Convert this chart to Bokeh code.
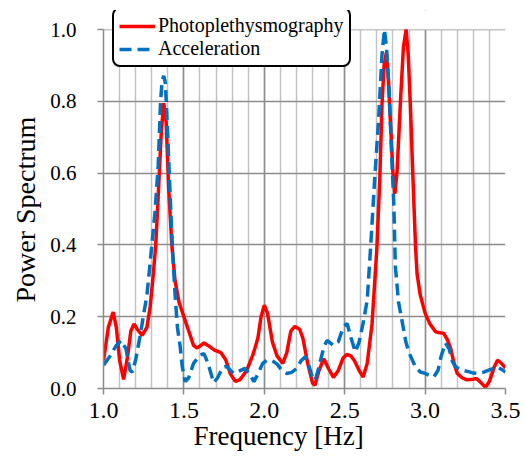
from bokeh.plotting import figure
from bokeh.models import (Range1d, SingleIntervalTicker, NumeralTickFormatter,
                          Legend, LegendItem, BoxAnnotation, Title)
from bokeh.embed import file_html
from bokeh.resources import INLINE

# Photoplethysmography power spectrum
ppg_freq = [1.00, 1.03, 1.06, 1.08, 1.10, 1.125, 1.15, 1.17, 1.19, 1.21, 1.24,
            1.27, 1.29, 1.31, 1.325, 1.345, 1.36, 1.375, 1.39, 1.405, 1.425,
            1.445, 1.47, 1.50, 1.53, 1.56, 1.58, 1.60, 1.625, 1.65, 1.69, 1.73,
            1.76, 1.79, 1.82, 1.85, 1.89, 1.93, 1.96, 1.98, 2.00, 2.02, 2.05,
            2.08, 2.115, 2.14, 2.165, 2.19, 2.22, 2.24, 2.27, 2.30, 2.315, 2.34,
            2.37, 2.40, 2.43, 2.46, 2.49, 2.515, 2.54, 2.56, 2.59, 2.615, 2.64,
            2.67, 2.70, 2.718, 2.732, 2.745, 2.759, 2.772, 2.784, 2.80, 2.812,
            2.826, 2.846, 2.865, 2.882, 2.895, 2.908, 2.925, 2.94, 2.95, 2.97,
            3.00, 3.03, 3.065, 3.09, 3.115, 3.14, 3.16, 3.18, 3.20, 3.23, 3.26,
            3.30, 3.32, 3.35, 3.375, 3.40, 3.43, 3.45, 3.47, 3.50]
ppg_power = [0.078, 0.17, 0.213, 0.17, 0.08, 0.025, 0.09, 0.16, 0.18, 0.165, 0.148,
             0.17, 0.227, 0.32, 0.40, 0.58, 0.72, 0.795, 0.74, 0.56, 0.40,
             0.30, 0.24, 0.20, 0.16, 0.12, 0.113, 0.118, 0.127, 0.12, 0.107, 0.10,
             0.08, 0.04, 0.02, 0.025, 0.05, 0.095, 0.14, 0.20, 0.232, 0.21, 0.13,
             0.09, 0.07, 0.10, 0.16, 0.173, 0.165, 0.14, 0.07, 0.015, 0.009, 0.05,
             0.083, 0.055, 0.031, 0.05, 0.085, 0.095, 0.09, 0.078, 0.05, 0.032, 0.07,
             0.18, 0.39, 0.58, 0.793, 0.90, 0.936, 0.86, 0.746, 0.60, 0.542,
             0.607, 0.793, 0.95, 1.0, 0.93, 0.793, 0.58, 0.40, 0.32, 0.26,
             0.21, 0.18, 0.158, 0.155, 0.154, 0.135, 0.11, 0.07, 0.042, 0.03, 0.024,
             0.026, 0.028, 0.015, 0.003, 0.02, 0.06, 0.079, 0.072, 0.058]

# Acceleration power spectrum
acc_freq = [1.00, 1.04, 1.08, 1.11, 1.14, 1.165, 1.18, 1.20, 1.225, 1.24, 1.27,
            1.29, 1.32, 1.34, 1.355, 1.365, 1.375, 1.385, 1.40, 1.415, 1.43,
            1.446, 1.46, 1.477, 1.49, 1.508, 1.53, 1.56, 1.60, 1.625, 1.65,
            1.685, 1.71, 1.74, 1.765, 1.79, 1.81, 1.85, 1.88, 1.91, 1.935, 1.96,
            1.99, 2.017, 2.05, 2.08, 2.11, 2.14, 2.17, 2.20, 2.23, 2.255, 2.28,
            2.30, 2.317, 2.34, 2.37, 2.39, 2.43, 2.46, 2.49, 2.515, 2.54, 2.566,
            2.59, 2.618, 2.64, 2.66, 2.686, 2.711, 2.732, 2.747, 2.76, 2.775,
            2.795, 2.805, 2.815, 2.835, 2.86, 2.88, 2.90, 2.94, 2.97, 3.00, 3.03,
            3.054, 3.08, 3.10, 3.126, 3.15, 3.17, 3.19, 3.23, 3.27, 3.30, 3.324,
            3.36, 3.40, 3.448, 3.48, 3.50]
acc_power = [0.065, 0.09, 0.12, 0.134, 0.11, 0.05, 0.046, 0.08, 0.14, 0.18, 0.26,
             0.35, 0.49, 0.62, 0.80, 0.86, 0.871, 0.85, 0.70, 0.533, 0.38,
             0.255, 0.17, 0.116, 0.06, 0.019, 0.03, 0.07, 0.093, 0.097, 0.07,
             0.016, 0.03, 0.058, 0.062, 0.05, 0.042, 0.05, 0.056, 0.04, 0.019, 0.04,
             0.07, 0.079, 0.077, 0.068, 0.05, 0.042, 0.045, 0.055, 0.078, 0.088, 0.06,
             0.03, 0.023, 0.06, 0.115, 0.134, 0.12, 0.13, 0.17, 0.181, 0.14, 0.102,
             0.13, 0.19, 0.246, 0.385, 0.58, 0.75, 0.93, 1.0, 0.95, 0.84,
             0.62, 0.52, 0.34, 0.24, 0.18, 0.13, 0.10, 0.06, 0.046, 0.042, 0.036,
             0.032, 0.05, 0.09, 0.127, 0.11, 0.075, 0.06, 0.051, 0.047, 0.043, 0.042,
             0.045, 0.052, 0.06, 0.052, 0.046]

series_labels = ["Photoplethysmography", "Acceleration"]
x_label = "Frequency [Hz]"
y_label = "Power Spectrum"

SERIF = "Liberation Serif"
Y_MAX = 1.0        # top of the value axis
Y_HEADROOM = 1.053 # extra room above the axis so the legend box is not clipped

p = figure(width=525, height=458, output_backend="svg", toolbar_location=None,
           x_range=Range1d(1.0, 3.5), y_range=Range1d(0.0, Y_HEADROOM),
           min_border_left=103, min_border_right=20, min_border_top=10,
           min_border_bottom=70)
p.outline_line_color = None
p.background_fill_color = "white"
p.border_fill_color = "white"

xt = SingleIntervalTicker(interval=0.5, num_minor_ticks=5)
yt = SingleIntervalTicker(interval=0.2, num_minor_ticks=0)
p.xaxis.ticker = xt
p.xgrid.ticker = xt
p.yaxis.ticker = yt
p.ygrid.ticker = yt
p.yaxis.bounds = (0.0, Y_MAX)

major_grid = "#8c8c8c"
p.xgrid.grid_line_color = major_grid
p.xgrid.grid_line_width = 1.5
p.xgrid.minor_grid_line_color = "#c4c4c4"
p.xgrid.minor_grid_line_width = 1.5
p.ygrid.grid_line_color = major_grid
p.ygrid.grid_line_width = 1.5

for ax in (p.xaxis, p.yaxis):
    ax.formatter = NumeralTickFormatter(format="0.0")
    ax.axis_line_color = major_grid
    ax.axis_line_width = 1.5
    ax.major_tick_line_color = major_grid
    ax.major_tick_line_width = 1.5
    ax.major_tick_in = 0
    ax.major_tick_out = 6
    ax.minor_tick_in = 0
    ax.minor_tick_out = 0
    ax.major_label_text_font = SERIF
    ax.major_label_text_color = "black"

p.xaxis.major_label_text_font_size = "24px"
p.yaxis.major_label_text_font_size = "21px"
p.xaxis.major_label_standoff = 8
p.yaxis.major_label_standoff = 21

# white cover over the headroom above 1.0 (hides grid lines there)
cover = BoxAnnotation(bottom=Y_MAX, fill_color="white", fill_alpha=1.0,
                      line_alpha=0.0, level="underlay")
p.add_layout(cover)

# axis titles placed in the side panels
ytitle = Title(text=y_label, align="left", offset=86, text_font=SERIF,
               text_font_size="28px", text_font_style="normal",
               text_color="black", standoff=14, vertical_align="bottom")
p.add_layout(ytitle, "left")
xtitle = Title(text=x_label, align="left", offset=90, text_font=SERIF,
               text_font_size="27px", text_font_style="normal",
               text_color="black", standoff=0, vertical_align="top")
p.add_layout(xtitle, "below")

r1 = p.line(ppg_freq, ppg_power, line_color="#ff0000", line_width=3.5)
r2 = p.line(acc_freq, acc_power, line_color="#0070c0", line_width=3.5,
            line_dash="12 6")

legend = Legend(items=[LegendItem(label=series_labels[0], renderers=[r1]),
                       LegendItem(label=series_labels[1], renderers=[r2])],
                location=(9, 321))
legend.border_line_color = "black"
legend.border_line_alpha = 1.0
legend.border_line_width = 2.5
legend.background_fill_color = "white"
legend.background_fill_alpha = 1.0
legend.padding = 5
legend.spacing = 0
legend.margin = 0
legend.glyph_width = 36
legend.glyph_height = 20
legend.label_standoff = 3
legend.label_height = 23
legend.label_text_font = SERIF
legend.label_text_font_size = "20px"
legend.label_text_color = "black"
try:
    legend.border_radius = 8
except Exception:
    pass
p.add_layout(legend)

open("out.html", "w").write(file_html(p, INLINE))
